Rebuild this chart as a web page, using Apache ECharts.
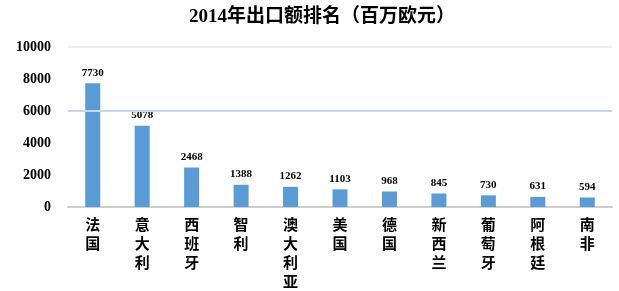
<!DOCTYPE html>
<html>
<head>
<meta charset="utf-8">
<script src="https://cdn.jsdelivr.net/npm/echarts@6/dist/echarts.min.js"></script>
<style>html,body{margin:0;padding:0;background:#fff}#c{width:619px;height:291px}</style>
</head>
<body>
<div id="c"></div>
<script>
const titleText = '2014年出口额排名（百万欧元）';
const categories = ['法国','意大利','西班牙','智利','澳大利亚','美国','德国','新西兰','葡萄牙','阿根廷','南非'];
const exports2014 = [7730, 5078, 2468, 1388, 1262, 1103, 968, 845, 730, 631, 594];
const yMin = 0, yMax = 10000, yStep = 2000;
const visibleGridValues = [6000, 10000];
const visibleGridColors = ['#c6d8e8', '#ececec'];

const chart = echarts.init(document.getElementById('c'), null, {renderer: 'canvas'});
chart.setOption({
  animation: false,
  backgroundColor: '#fff',
  title: {
    text: titleText,
    left: 317, top: 3, textAlign: 'center',
    textStyle: {fontFamily: '"Liberation Serif","Noto Sans CJK SC"', fontWeight: 'bold', fontSize: 19, color: '#000'}
  },
  grid: {left: 68, right: 7, top: 47, bottom: 80, containLabel: false},
  xAxis: {
    type: 'category',
    data: categories,
    axisLine: {show: true, lineStyle: {color: '#cfcfcf', width: 2}},
    axisTick: {show: false},
    axisLabel: {
      interval: 0, margin: 8,
      formatter: v => v.split('').join('\n'),
      fontFamily: '"Noto Sans CJK SC"', fontWeight: 'bold', fontSize: 15, lineHeight: 19, color: '#000'
    }
  },
  yAxis: {
    type: 'value', min: yMin, max: yMax, interval: yStep,
    axisLine: {show: false}, axisTick: {show: false},
    splitLine: {show: false},
    axisLabel: {
      margin: 17, padding: [0,0,6,0],
      formatter: v => String(v),
      fontFamily: '"Liberation Serif"', fontWeight: 'bold', fontSize: 14, color: '#000'
    }
  },
  series: [{
    type: 'bar',
    data: exports2014,
    barWidth: 15,
    itemStyle: {color: '#5b9bd5'},
    label: {show: true, position: 'top', distance: 5, fontFamily: '"Liberation Serif"', fontWeight: 'bold', fontSize: 11, color: '#000'},
    markLine: {
      silent: true, symbol: ['none', 'none'], label: {show: false}, animation: false,
      lineStyle: {type: 'solid', width: 2},
      data: visibleGridValues.map((v, i) => ({yAxis: v, lineStyle: {color: visibleGridColors[i], width: 2, type: 'solid'}}))
    }
  }]
});
</script>
</body>
</html>
